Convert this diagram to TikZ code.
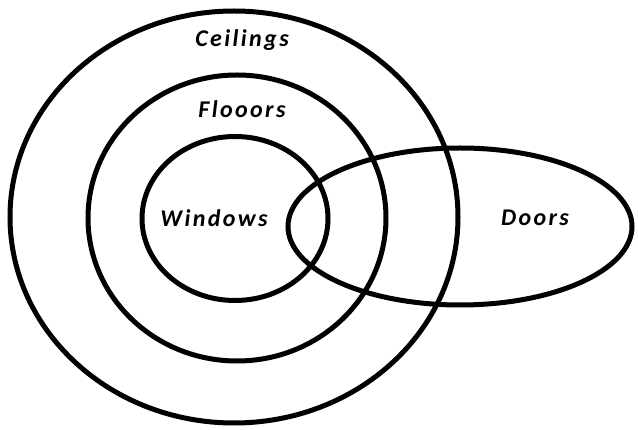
\documentclass[tikz,border=0pt]{standalone}
\usepackage{fontspec}
\setmainfont{Carlito}
\newfontfamily\lblfont[LetterSpace=10]{Carlito}
\begin{document}
\begin{tikzpicture}[x=1pt,y=-1pt,
  ring/.style={draw=black,line width=5pt},
  lbl/.style={font=\lblfont\fontsize{24}{26}\selectfont\bfseries\itshape, inner sep=0pt, anchor=base}]
\useasboundingbox (0,0) rectangle (638,430);
\draw[ring] (234,217) ellipse [x radius=224, y radius=206];
\draw[ring] (237,218) ellipse [x radius=149, y radius=143];
\draw[ring] (235,218.5) ellipse [x radius=93, y radius=82];
\draw[ring] (460,226.5) ellipse [x radius=172, y radius=78.5];
\node[lbl] (ceil) at (242,47) {Ceilings};
\node[lbl] (floor) at (242,118) {Flooors};
\node[lbl] (win) at (214,227) {Windows};
\node[lbl] (door) at (535,226) {Doors};
\end{tikzpicture}
\end{document}
